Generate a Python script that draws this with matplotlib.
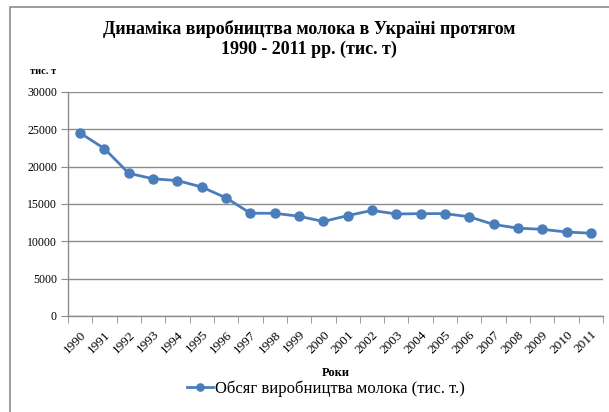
import matplotlib.pyplot as plt
from matplotlib.patches import Rectangle

years = [str(y) for y in range(1990, 2012)]
milk = [24508, 22409, 19113, 18376, 18138, 17274, 15821, 13768, 13753, 13362, 12658,
        13444, 14142, 13661, 13709, 13714, 13287, 12262, 11761, 11610, 11249, 11086]

plt.rcParams["font.family"] = ["Liberation Serif", "DejaVu Serif"]

W, H = 609, 412
fig = plt.figure(figsize=(W / 100, H / 100), dpi=100)
fig.patch.set_facecolor("white")

# outer chart border (runs off the right and bottom edges)
fig.patches.append(Rectangle((10 / W, -0.1), 1.1, 1 - 7 / H + 0.1, transform=fig.transFigure,
                             fill=False, edgecolor="#8c8c8c", linewidth=1.2))

ax = fig.add_axes([68 / W, 96 / H, 535 / W, 224 / H])
x = list(range(len(years)))
line, = ax.plot(x, milk, color="#4a7ebb", linewidth=2, marker="o", markersize=6.5,
                markerfacecolor="#4a7ebb", markeredgecolor="#4a7ebb", zorder=3)

ax.set_xlim(-0.5, len(years) - 0.5)
ax.set_ylim(0, 30000)
ax.set_yticks(range(0, 30001, 5000))
ax.set_xticks(x)
ax.set_xticklabels(years, rotation=45, ha="right", rotation_mode="anchor", fontsize=9.5)
ax.set_xticks([i - 0.5 for i in range(len(years) + 1)], minor=True)
ax.tick_params(axis="x", which="major", length=0, pad=9)
ax.tick_params(axis="x", which="minor", length=5, color="#8c8c8c", direction="out")
ax.tick_params(axis="y", length=5, color="#8c8c8c", labelsize=8.5, pad=3)
ax.yaxis.grid(True, color="#8c8c8c", linewidth=1)
ax.set_axisbelow(True)
for s in ["top", "right"]:
    ax.spines[s].set_visible(False)
for s in ["left", "bottom"]:
    ax.spines[s].set_color("#8c8c8c")
    ax.spines[s].set_linewidth(1)

ax.set_xlabel("Роки", fontsize=9, fontweight="bold", labelpad=8)
fig.text(30 / W, 1 - 72 / H, "тис. т", fontsize=7.5, fontweight="bold", va="center", ha="left")

fig.text(0.508, 1 - 39 / H, "Динаміка виробництва молока в Україні протягом\n1990 - 2011 рр. (тис. т)",
         ha="center", va="center", fontsize=13, fontweight="bold", linespacing=1.15)

fig.legend([line], ["Обсяг виробництва молока (тис. т.)"], loc="center",
           bbox_to_anchor=(0.535, 1 - 389 / H), frameon=False, fontsize=12,
           handlelength=1.6, handletextpad=0.1, markerscale=0.8)

fig.savefig("out.png", dpi=100)
